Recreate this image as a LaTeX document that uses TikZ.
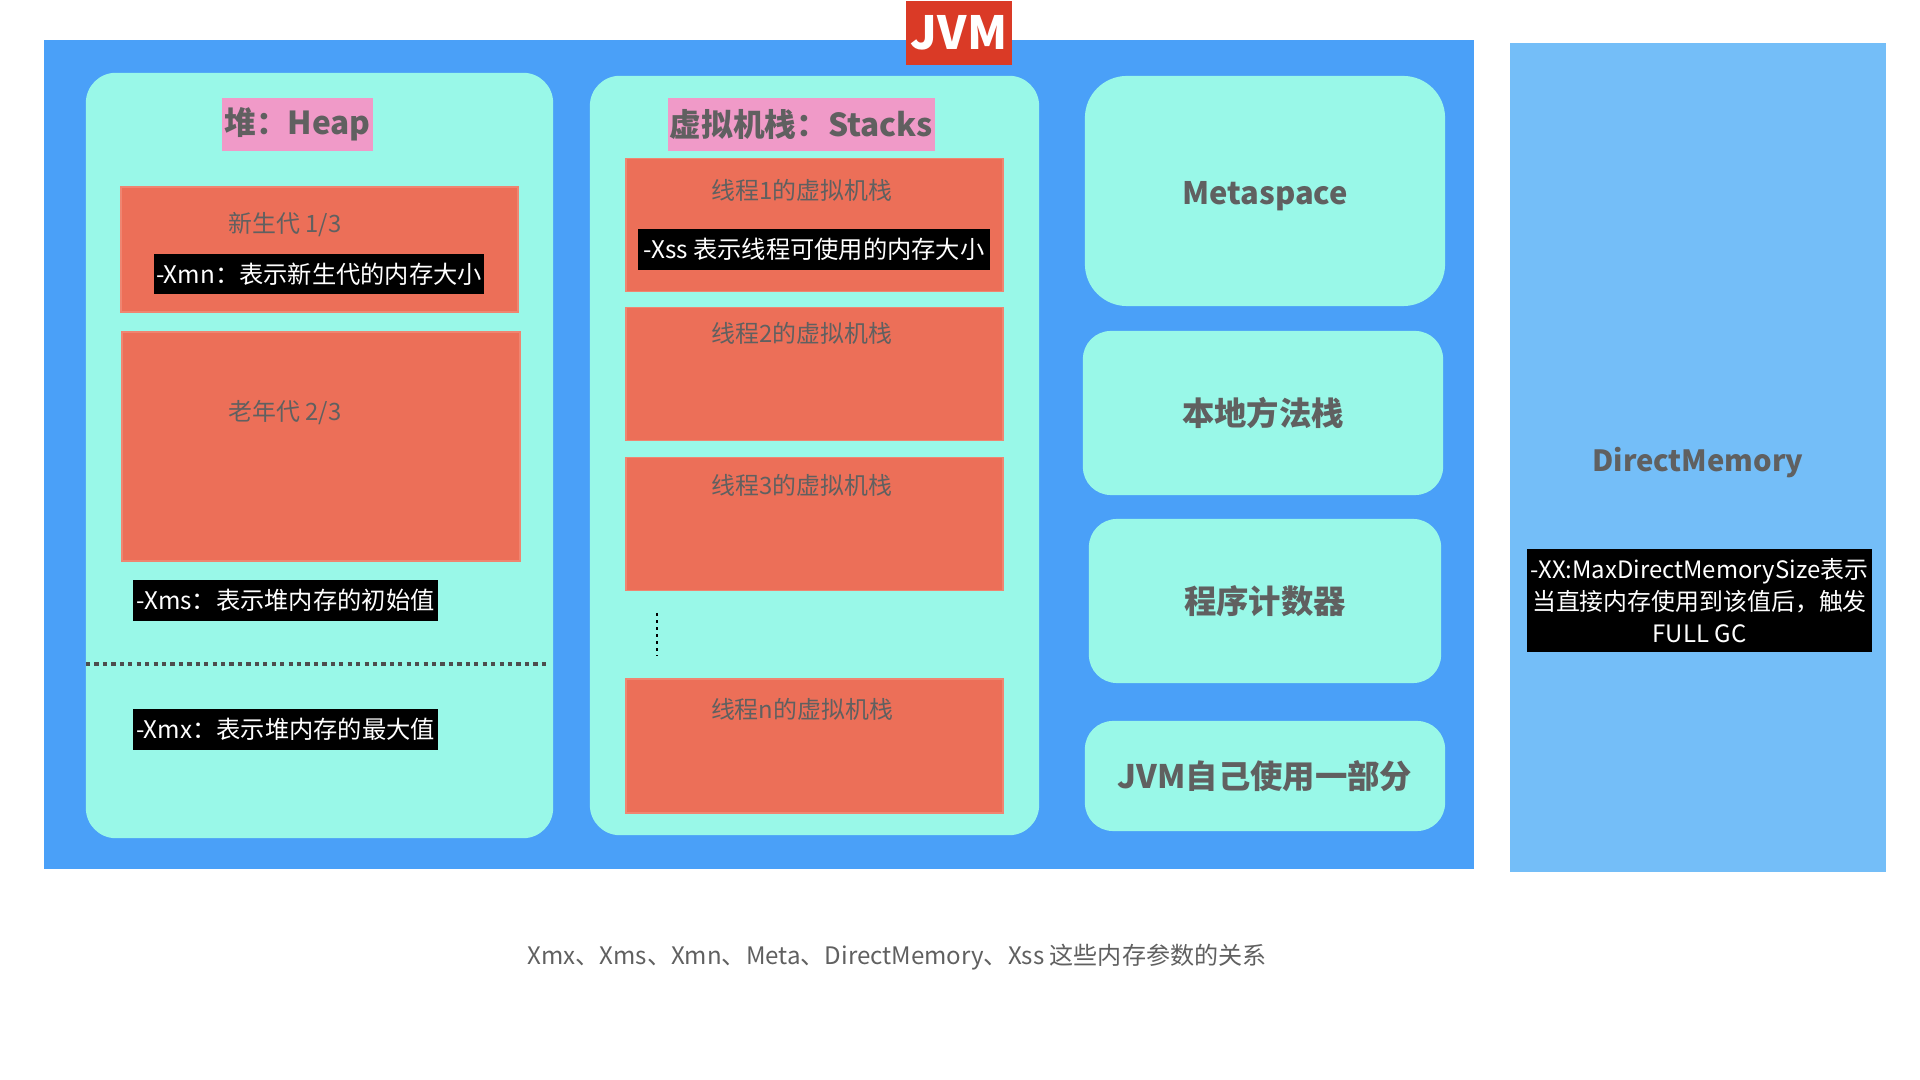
\documentclass[tikz,border=0pt]{standalone}
\usepackage{fontspec}
\setmainfont{Noto Sans CJK SC}
\usetikzlibrary{calc}

\definecolor{jvmblue}{RGB}{74,160,248}
\definecolor{dmblue}{RGB}{116,190,248}
\definecolor{aqua}{RGB}{153,248,232}
\definecolor{genred}{RGB}{236,111,88}
\definecolor{titlepink}{RGB}{240,154,200}
\definecolor{jvmred}{RGB}{218,58,38}
\definecolor{txtgray}{RGB}{96,96,96}

\tikzset{
  panel/.style={fill=aqua, rounded corners=0.3cm, inner sep=0pt},
  genbox/.style={fill=genred, draw=genred!85!white, line width=0.4pt, inner sep=0pt},
  titlebox/.style={fill=titlepink, text=txtgray, inner sep=0pt,
    font=\bfseries\fontsize{9}{11}\selectfont},
  tagbox/.style={fill=black, text=white, inner sep=0pt,
    font=\fontsize{6.9}{8.5}\selectfont},
  genlbl/.style={text=txtgray, inner sep=0pt, font=\fontsize{6.8}{8}\selectfont},
  bigtxt/.style={text=txtgray, font=\bfseries\fontsize{9.2}{11}\selectfont}
}

\begin{document}
\begin{tikzpicture}[x=0.01cm,y=-0.01cm]
\useasboundingbox (0,0) rectangle (1920,1080);
% JVM frame and the direct memory column
\fill[jvmblue] (44,40) rectangle (1474,869);
\node[fill=jvmred, text=white, minimum width=1.05cm, minimum height=0.63cm, inner sep=0pt,
  font=\bfseries\fontsize{13}{15}\selectfont] (jvm) at (959,33) {JVM};
\fill[dmblue] (1510,43) rectangle (1886,872);
\node[bigtxt, font=\bfseries\fontsize{8.3}{10}\selectfont] (dm) at (1698,463) {DirectMemory};
\node[tagbox, minimum width=3.45cm, minimum height=1.02cm, align=center,
  font=\fontsize{6.8}{9.1}\selectfont] (dmtag) at (1699.5,600.5)
  {-XX:MaxDirectMemorySize表示\\当直接内存使用到该值后，触发\\FULL GC};
% Heap
\node[panel, minimum width=4.67cm, minimum height=7.65cm] (heap) at (319.5,455.5) {};
\node[titlebox, minimum width=1.51cm, minimum height=0.53cm] (heaptitle) at (297.5,124.5) {堆：Heap};
\node[genbox, minimum width=3.97cm, minimum height=1.25cm] (young) at (319.5,249.5) {};
\node[genlbl] (younglbl) at (285,225) {新生代 1/3};
\node[tagbox, minimum width=3.30cm, minimum height=0.40cm] (xmn) at (319,274.5) {-Xmn：表示新生代的内存大小};
\node[genbox, minimum width=3.98cm, minimum height=2.29cm] (old) at (321,446.5) {};
\node[genlbl] (oldlbl) at (285,413) {老年代 2/3};
\node[tagbox, minimum width=3.05cm, minimum height=0.41cm] (xms) at (285.5,600.5) {-Xms：表示堆内存的初始值};
\draw[txtgray!80!black, line width=1pt, dash pattern=on 1.2pt off 1.2pt] (86,664) -- (549,664);
\node[tagbox, minimum width=3.05cm, minimum height=0.41cm] (xmx) at (285.5,729.5) {-Xmx：表示堆内存的最大值};
% Stacks
\node[panel, minimum width=4.49cm, minimum height=7.59cm] (stacks) at (814.5,455.5) {};
\node[titlebox, minimum width=2.66cm, minimum height=0.53cm] (stacktitle) at (801.5,124.5) {虚拟机栈：Stacks};
\node[genbox, minimum width=3.77cm, minimum height=1.33cm] (t1) at (814.5,225) {};
\node[genlbl] (t1lbl) at (802,190) {线程1的虚拟机栈};
\node[tagbox, minimum width=3.52cm, minimum height=0.41cm] (xss) at (814,249.5) {-Xss 表示线程可使用的内存大小};
\node[genbox, minimum width=3.77cm, minimum height=1.33cm] (t2) at (814.5,374) {};
\node[genlbl] (t2lbl) at (802,333) {线程2的虚拟机栈};
\node[genbox, minimum width=3.77cm, minimum height=1.33cm] (t3) at (814.5,524) {};
\node[genlbl] (t3lbl) at (802,485) {线程3的虚拟机栈};
\draw[black, line width=0.7pt, dash pattern=on 0.9pt off 1.1pt] (657,613) -- (657,656);
\node[genbox, minimum width=3.77cm, minimum height=1.34cm] (tn) at (814.5,746) {};
\node[genlbl] (tnlbl) at (802,709) {线程n的虚拟机栈};
% Right column
\node[panel, rounded corners=0.42cm, minimum width=3.60cm, minimum height=2.30cm] (meta) at (1265,191) {};
\node[bigtxt, font=\bfseries\fontsize{8.8}{10.5}\selectfont] (metalbl) at (1265,196) {Metaspace};
\node[panel, rounded corners=0.28cm, minimum width=3.60cm, minimum height=1.64cm, bigtxt] (native) at (1263,413) {本地方法栈};
\node[panel, rounded corners=0.28cm, minimum width=3.52cm, minimum height=1.64cm, bigtxt] (pc) at (1265,601) {程序计数器};
\node[panel, rounded corners=0.28cm, minimum width=3.60cm, minimum height=1.10cm, bigtxt] (own) at (1265,776) {JVM自己使用一部分};
% Caption
\node[text=txtgray, font=\fontsize{6.85}{8.5}\selectfont] (caption) at (897,957)
  {Xmx、Xms、Xmn、Meta、DirectMemory、Xss 这些内存参数的关系};
\end{tikzpicture}
\end{document}
